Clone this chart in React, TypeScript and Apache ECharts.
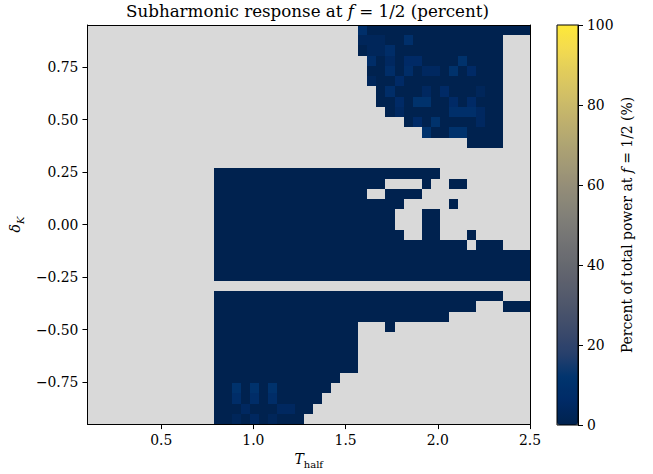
import React, { useEffect, useRef } from 'react';
import * as echarts from 'echarts';

// ---- data ----
const X_MIN = 0.1;
const X_MAX = 2.5;
const Y_MIN = -0.95;
const Y_MAX = 0.95;
const xTicks = [0.5, 1.0, 1.5, 2.0, 2.5];
const yTicks = [-0.75, -0.5, -0.25, 0, 0.25, 0.5, 0.75];
const cbarTicks = [0, 20, 40, 60, 80, 100];
// percent value of each cell code ('.' = no data)
const levelPercent = [0.3, 1.5, 3, 4.5, 6, 7.5, 9, 10.5, 12, 13.5];
// rows from top (delta_K = 0.95) to bottom (-0.95), 49 columns each (T_half 0.1 .. 2.5)
const E10 = '..........';
const E9 = '.........';
const M1 = '....000000';
const F10 = '0000000000';
const gridRows: string[][] = [
  [E10, E10, E10, '6000000000', '000000000'],
  [E10, E10, E10, '2220060000', '000000...'],
  [E10, E10, E10, '0225000000', '000000...'],
  [E10, E10, E10, '.503044000', '070000...'],
  [E10, E10, E10, '.005050330', '704000...'],
  [E10, E10, E10, '.200400000', '000000...'],
  [E10, E10, E10, '..05000304', '000200...'],
  [E10, E10, E10, '..00407700', '404000...'],
  [E10, E10, E10, '...0300000', '666300...'],
  [E10, E10, E10, '.....04070', '000300...'],
  [E10, E10, E10, '.......700', '770000...'],
  [E10, E10, E10, E10, '..0000...'],
  [E10, E10, E10, E10, E9],
  [E10, E10, E10, E10, E9],
  [E10, M1, F10, '000000000.', E9],
  [E10, M1, F10, '000....0..', '00.......'],
  [E10, M1, F10, '0..0000...', E9],
  [E10, M1, F10, '00000.....', '0........'],
  [E10, M1, F10, '0000...00.', E9],
  [E10, M1, F10, '0000...00.', E9],
  [E10, M1, F10, '00000..00.', '..0......'],
  [E10, M1, F10, F10, '00.000...'],
  [E10, M1, F10, F10, '000000000'],
  [E10, M1, F10, F10, '000000000'],
  [E10, M1, F10, F10, '000000000'],
  [E10, E10, E10, E10, E9],
  [E10, M1, F10, F10, '000000...'],
  [E10, M1, F10, F10, '000...000'],
  [E10, M1, F10, F10, E9],
  [E10, M1, F10, '...0......', E9],
  [E10, M1, F10, E10, E9],
  [E10, M1, F10, E10, E9],
  [E10, M1, F10, E10, E9],
  [E10, M1, F10, E10, E9],
  [E10, M1, '00000000..', E10, E9],
  [E10, '....007070', '7000000...', E10, E9],
  [E10, '....005050', '500000....', E10, E9],
  [E10, '....000300', '03300.....', E10, E9],
  [E10, '....002030', '2000......', E10, E9],
];

const cividis = [
  '#00224e', '#002a66', '#00346e', '#273f6c', '#3c4a6b', '#4c556b',
  '#5b5f6d', '#686a70', '#757575', '#838178', '#928c78', '#a19876',
  '#b0a572', '#c0b16d', '#d1bf66', '#e1cc5c', '#f3db4f', '#fee838',
];

const FONT = 'DejaVu Serif';

// one rect per horizontal run of equal cells: [x0, x1, y0, y1, percent]
function buildCells() {
  const rows = gridRows.map((r) => r.join(''));
  const ny = rows.length;
  const nx = 49;
  const dx = (X_MAX - X_MIN) / nx;
  const dy = (Y_MAX - Y_MIN) / ny;
  const cells: number[][] = [];
  rows.forEach((row, r) => {
    const y1 = Y_MAX - r * dy;
    let c = 0;
    while (c < nx) {
      const ch = row[c];
      if (ch === undefined || ch === '.') { c++; continue; }
      let e = c + 1;
      while (e < nx && row[e] === ch) e++;
      cells.push([X_MIN + c * dx, X_MIN + e * dx, y1 - dy, y1, levelPercent[Number(ch)]]);
      c = e;
    }
  });
  return cells;
}

const fmtY = (v: number) => (v < 0 ? '\u2212' : '') + Math.abs(v).toFixed(2);

export default function App() {
  const ref = useRef<HTMLDivElement>(null);
  useEffect(() => {
    const chart = echarts.init(ref.current!, null, { renderer: 'svg' });
    const labelStyle = { fontFamily: FONT, fontSize: 13.9, color: '#000' };
    const lineStyle = { color: '#000', width: 1 };
    const option: any = {
      animation: false,
      backgroundColor: '#ffffff',
      title: {
        text: 'Subharmonic response at {i|f} = 1/2 (percent)',
        left: 307.5,
        top: 2,
        padding: 0,
        textAlign: 'center',
        textStyle: {
          fontFamily: FONT,
          fontSize: 16.7,
          fontWeight: 'normal',
          color: '#000',
          rich: {
            i: { fontFamily: FONT, fontStyle: 'italic', fontSize: 16.7, color: '#000' },
          },
        },
      },
      grid: [
        { left: 85, top: 25, width: 445, height: 400, show: true, backgroundColor: '#d9d9d9', borderWidth: 0 },
        { left: 557, top: 25, width: 21, height: 400, show: true, backgroundColor: 'transparent', borderColor: '#000', borderWidth: 1, z: 6 },
      ],
      xAxis: [
        {
          type: 'value', gridIndex: 0, min: X_MIN, max: X_MAX, position: 'bottom', z: 5,
          splitLine: { show: false },
          axisLine: { show: true, onZero: false, lineStyle },
          axisTick: { show: true, customValues: xTicks, length: 5, lineStyle },
          axisLabel: { ...labelStyle, customValues: xTicks, margin: 9, formatter: (v: number) => v.toFixed(1) },
          name: '{t|T}{s|half}',
          nameLocation: 'middle',
          nameGap: 27,
          nameTextStyle: {
            rich: {
              t: { fontFamily: FONT, fontStyle: 'italic', fontSize: 14, color: '#000', verticalAlign: 'bottom', padding: [0, 0, 3, 0] },
              s: { fontFamily: FONT, fontSize: 10, color: '#000', verticalAlign: 'bottom' },
            },
          },
        },
        {
          type: 'value', gridIndex: 0, min: X_MIN, max: X_MAX, position: 'top', z: 5,
          splitLine: { show: false }, axisTick: { show: false }, axisLabel: { show: false },
          axisLine: { show: true, onZero: false, lineStyle },
        },
        { type: 'value', gridIndex: 1, min: 0, max: 1, show: false },
      ],
      yAxis: [
        {
          type: 'value', gridIndex: 0, min: Y_MIN, max: Y_MAX, position: 'left', z: 5,
          splitLine: { show: false },
          axisLine: { show: true, onZero: false, lineStyle },
          axisTick: { show: true, customValues: yTicks, length: 5, lineStyle },
          axisLabel: { ...labelStyle, customValues: yTicks, margin: 9, formatter: fmtY },
          name: '{d|δ}{k|K}',
          nameLocation: 'middle',
          nameRotate: 90,
          nameGap: 52,
          nameTextStyle: {
            rich: {
              d: { fontFamily: FONT, fontStyle: 'italic', fontSize: 14, color: '#000', verticalAlign: 'bottom', padding: [0, 0, 3, 0] },
              k: { fontFamily: FONT, fontStyle: 'italic', fontSize: 10, color: '#000', verticalAlign: 'bottom' },
            },
          },
        },
        {
          type: 'value', gridIndex: 0, min: Y_MIN, max: Y_MAX, position: 'right', z: 5,
          splitLine: { show: false }, axisTick: { show: false }, axisLabel: { show: false },
          axisLine: { show: true, onZero: false, lineStyle },
        },
        {
          type: 'value', gridIndex: 1, min: 0, max: 100, position: 'right', z: 6,
          splitLine: { show: false },
          axisLine: { show: true, onZero: false, lineStyle },
          axisTick: { show: true, customValues: cbarTicks, length: 5, lineStyle },
          axisLabel: { ...labelStyle, customValues: cbarTicks, margin: 9 },
          name: 'Percent of total power at {i|f} = 1/2 (%)',
          nameLocation: 'middle',
          nameRotate: 90,
          nameGap: 42,
          nameTextStyle: {
            fontFamily: FONT, fontSize: 13.9, color: '#000',
            rich: { i: { fontFamily: FONT, fontStyle: 'italic', fontSize: 13.9, color: '#000' } },
          },
        },
      ],
      visualMap: {
        type: 'continuous',
        min: 0,
        max: 100,
        dimension: 4,
        seriesIndex: 0,
        calculable: false,
        orient: 'vertical',
        left: 557,
        top: 25,
        itemWidth: 21,
        itemHeight: 400,
        padding: 0,
        inRange: { color: cividis },
      },
      series: [
        {
          type: 'custom',
          xAxisIndex: 0,
          yAxisIndex: 0,
          clip: true,
          encode: { x: [0, 1], y: [2, 3] },
          data: buildCells(),
          renderItem: (_params: any, api: any) => {
            const p0 = api.coord([api.value(0), api.value(3)]);
            const p1 = api.coord([api.value(1), api.value(2)]);
            const x0 = Math.round(p0[0]);
            const y0 = Math.round(p0[1]);
            const x1 = Math.round(p1[0]);
            const y1 = Math.round(p1[1]);
            const color = api.visual('color');
            return {
              type: 'rect',
              shape: { x: x0, y: y0, width: x1 - x0, height: y1 - y0 },
              style: { fill: color },
            };
          },
        },
      ],
    };
    chart.setOption(option);
    return () => chart.dispose();
  }, []);
  return <div ref={ref} style={{ position: 'fixed', left: 0, top: 0, width: 653, height: 474 }} />;
}
